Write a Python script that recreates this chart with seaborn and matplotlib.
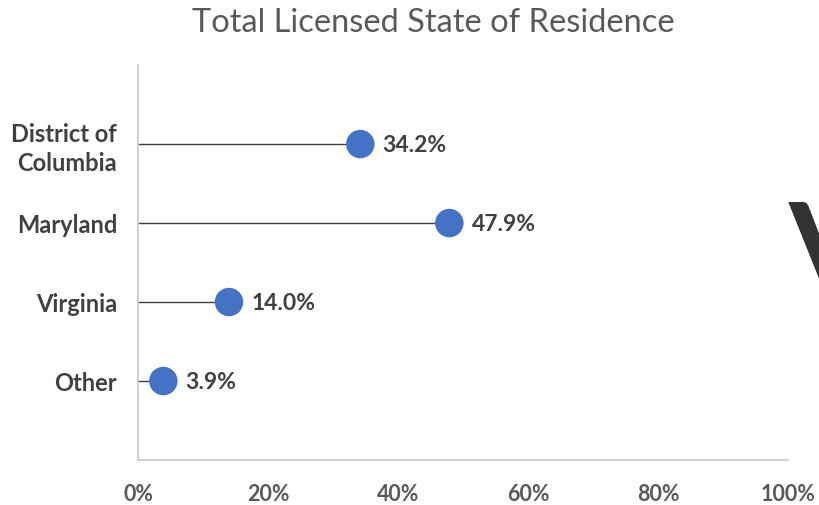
import pandas as pd
import numpy as np
import matplotlib.pyplot as plt
import seaborn as sns

# Data
states = ['District of\nColumbia', 'Maryland', 'Virginia', 'Other']
shares = [34.2, 47.9, 14.0, 3.9]
x_ticks = [0, 20, 40, 60, 80, 100]

df = pd.DataFrame({'state': states, 'share': shares})
df['pos'] = np.arange(len(df))

sns.set_theme(style='white')
plt.rcParams['font.family'] = ['Lato', 'DejaVu Sans']

fig = plt.figure(figsize=(8.2, 5.05), dpi=100)
ax = fig.add_axes([0.1683, 0.0891, 0.7927, 0.782])

# stems
ax.hlines(df['pos'], 0, df['share'], color='#404040', linewidth=1.0, zorder=1)
sns.scatterplot(data=df, x='share', y='pos', s=420, color='#4472C4',
                edgecolor='none', ax=ax, zorder=3, legend=False)

for _, r in df.iterrows():
    ax.text(r['share'] + 3.4, r['pos'] + 0.02, f"{r['share']:.1f}%", va='center', ha='left',
            fontsize=16.5, fontweight='bold', color='#404040')

ax.set_xlim(0, 100)
ax.set_ylim(len(df), -1)
ax.set_xticks(x_ticks)
ax.set_xticklabels([f'{t}%' for t in x_ticks], fontsize=15.5, fontweight='bold', color='#595959')
ax.set_yticks(df['pos'])
ax.set_yticklabels(df['state'], fontsize=17, fontweight='bold', color='#404040',
                   linespacing=1.3)
ax.tick_params(axis='x', length=0, pad=17)
ax.tick_params(axis='y', length=0, pad=15)
ax.set_xlabel('')
ax.set_ylabel('')

for side in ['top', 'right']:
    ax.spines[side].set_visible(False)
for side in ['left', 'bottom']:
    ax.spines[side].set_color('#C8C8C8')
    ax.spines[side].set_linewidth(1.2)

fig.text(0.528, 0.955, 'Total Licensed State of Residence', ha='center', va='center',
         fontsize=23.5, color='#595959')

# partially cropped letter at right edge of the slide
fig.text(0.962, 0.485, 'V', ha='left', va='center', fontsize=95, fontweight='bold',
         color='#333333')

fig.savefig('out.png', dpi=100)
